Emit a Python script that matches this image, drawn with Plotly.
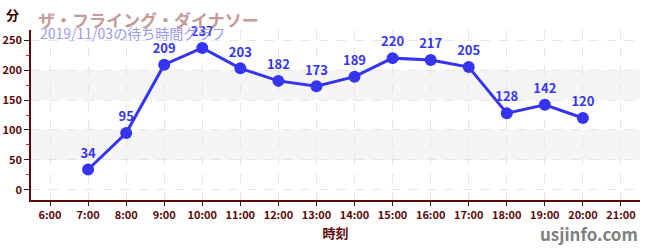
import plotly.graph_objects as go

hours = [7, 8, 9, 10, 11, 12, 13, 14, 15, 16, 17, 18, 19, 20]
waits = [34, 95, 209, 237, 203, 182, 173, 189, 220, 217, 205, 128, 142, 120]
tick_hours = list(range(6, 22))
tick_labels = [f"{h}:00" for h in tick_hours]
bands = [(50, 100), (150, 200)]

title = "ザ・フライング・ダイナソー"
subtitle = "2019/11/03の待ち時間グラフ"

font = "Noto Sans CJK JP, Noto Sans, sans-serif"
axis_col = "#5a0a0a"
blue = "#3535f0"

fig = go.Figure()
fig.add_trace(go.Scatter(
    x=hours, y=waits, mode="lines+markers+text",
    line=dict(color=blue, width=3),
    marker=dict(color=blue, size=12),
    text=[str(v) for v in waits], textposition="top center",
    textfont=dict(color=blue, size=13, family=font, weight="bold"),
    cliponaxis=False, hoverinfo="skip",
))

shapes = [dict(type="rect", xref="paper", yref="y", x0=0, x1=1, y0=a, y1=b,
               fillcolor="#f5f5f5", line=dict(width=0), layer="below") for a, b in bands]

fig.update_layout(
    width=650, height=250, margin=dict(l=31, r=10, t=30, b=50, autoexpand=False),
    paper_bgcolor="white", plot_bgcolor="white", showlegend=False,
    shapes=shapes,
    font=dict(family=font, color=axis_col),
    xaxis=dict(range=[5.5, 21.5], tickvals=tick_hours, ticktext=tick_labels,
               automargin=False,
               showgrid=True, gridcolor="#e6e6e6", griddash="dash", gridwidth=1,
               showline=True, linecolor=axis_col, linewidth=1.5,
               ticks="outside", ticklen=4, tickcolor=axis_col,
               tickfont=dict(size=11, color=axis_col, weight="bold"),
               zeroline=False,
               title=dict(text="時刻", font=dict(size=13, color=axis_col, weight="bold"), standoff=8)),
    yaxis=dict(range=[-17, 267], tickvals=[0, 50, 100, 150, 200, 250],
               automargin=False,
               showgrid=True, gridcolor="#e6e6e6", griddash="dash", gridwidth=1,
               showline=True, linecolor=axis_col, linewidth=1.5,
               ticks="outside", ticklen=5, tickcolor="#222222",
               tickfont=dict(size=11, color=axis_col, weight="bold"),
               minor=dict(dtick=25, tick0=0, ticks="outside", ticklen=3, tickcolor="#e02020", showgrid=False),
               zeroline=False),
    annotations=[
        dict(text="分", xref="paper", yref="paper", x=-0.045, y=1.0, xanchor="left", yanchor="bottom",
             yshift=4, showarrow=False, font=dict(size=13, color="#3a0000", weight="bold")),
        dict(text=title, xref="paper", yref="paper", x=0.008, y=1.0, xanchor="left", yanchor="bottom",
             yshift=-4, showarrow=False, font=dict(size=17, color="#c49a9a", weight="bold")),
        dict(text=subtitle, xref="paper", yref="paper", x=0.012, y=1.0, xanchor="left", yanchor="top",
             yshift=9, showarrow=False, font=dict(size=14, color="#9a9af0")),
        dict(text="usjinfo.com", xref="paper", yref="paper", x=1.0, y=0, xanchor="right", yanchor="middle",
             yshift=-33, showarrow=False, font=dict(size=17, color="#808080", weight="bold")),
    ],
)

fig.write_html("out.html")
